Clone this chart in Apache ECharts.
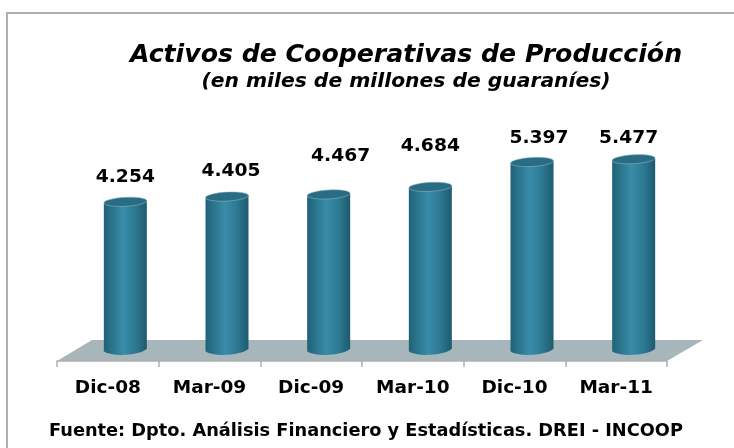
<!DOCTYPE html>
<html>
<head>
<meta charset="utf-8">
<style>
  html, body { margin: 0; padding: 0; background: #fff; }
  #chart { width: 734px; height: 448px; }
</style>
<script src="https://cdn.jsdelivr.net/npm/echarts@6/dist/echarts.min.js"></script>
</head>
<body>
<div id="chart"></div>
<script>
const categories = ['Dic-08', 'Mar-09', 'Dic-09', 'Mar-10', 'Dic-10', 'Mar-11']
const activos = [4254, 4405, 4467, 4684, 5397, 5477]

// los rótulos del original están colocados a mano, no a distancia fija
const labelLift = [24, 25, 38, 40, 23, 21]
const labelShift = [0, 4, 12, 0, 7, -5]

const font = '"DejaVu Sans", Verdana, sans-serif'
const depthX = 17.5
const depthY = 11
const halfWidth = 21.5
const capRy = 4.5
const tilt = 1.2

const bodyGradient = new echarts.graphic.LinearGradient(0, 0, 1, 0, [
  { offset: 0, color: '#1f6277' },
  { offset: 0.45, color: '#3a8ca9' },
  { offset: 0.75, color: '#2c7790' },
  { offset: 1, color: '#1d5a6d' }
])

// cilindro: el eje da la posición y el tamaño sale de la escala
function renderCylinder(params, api) {
  const i = api.value(0)
  const top = api.coord([i, api.value(1)])
  const base = api.coord([i, 0])
  const cx = top[0] + depthX
  const topY = top[1] - depthY
  const baseY = base[1] - depthY
  const left = cx - halfWidth
  const right = cx + halfWidth
  return {
    type: 'group',
    children: [
      {
        type: 'path',
        shape: {
          pathData: `M${left} ${topY + tilt} L${left} ${baseY + tilt} C${left + 8} ${baseY + 7} ${right - 8} ${baseY + 6} ${right} ${baseY - tilt} L${right} ${topY - tilt} Z`
        },
        style: { fill: bodyGradient }
      },
      {
        type: 'ellipse',
        x: cx,
        y: topY,
        rotation: 0.055,
        shape: { cx: 0, cy: 0, rx: halfWidth, ry: capRy },
        style: { fill: '#296d84', stroke: '#9dbcc6', lineWidth: 0.5 }
      },
      {
        type: 'text',
        x: cx + labelShift[params.dataIndex],
        y: topY - labelLift[params.dataIndex],
        scaleX: 1.1,
        style: {
          text: api.value(2),
          x: 0,
          y: 0,
          align: 'center',
          verticalAlign: 'middle',
          font: 'bold 17px ' + font,
          fill: '#000'
        }
      }
    ]
  }
}

const chart = echarts.init(document.getElementById('chart'), null, { renderer: 'canvas' })

chart.setOption({
  animation: false,
  backgroundColor: '#fff',
  title: {
    text: 'Activos de Cooperativas de Producción',
    subtext: '(en miles de millones de guaraníes)',
    left: 401,
    top: 38,
    textAlign: 'center',
    itemGap: 4,
    textStyle: { fontFamily: font, fontSize: 25.2, fontWeight: 'bold', fontStyle: 'italic', color: '#000' },
    subtextStyle: { fontFamily: font, fontSize: 20.3, fontWeight: 'bold', fontStyle: 'italic', color: '#000' }
  },
  grid: { left: 57, right: 67, top: 152, bottom: 87 },
  xAxis: {
    type: 'category',
    data: categories,
    axisLine: { lineStyle: { color: '#b0b0b0', width: 1.5 } },
    axisTick: { show: true, length: 6, lineStyle: { color: '#b0b0b0', width: 1.5 } },
    axisLabel: { color: '#000', fontFamily: font, fontSize: 18.5, fontWeight: 'bold', margin: 18 }
  },
  yAxis: { type: 'value', min: 0, max: 6000, show: false },
  graphic: [
    {
      type: 'polyline',
      shape: { points: [[7, 448], [7, 13], [734, 13]] },
      style: { fill: 'none', stroke: '#b0b0b0', lineWidth: 2 },
      z: 0
    },
    {
      type: 'polygon',
      shape: { points: [[57, 361], [92, 340], [703, 340], [667, 361]] },
      style: { fill: '#a7b6bb' },
      z: 0
    },
    {
      type: 'text',
      style: {
        text: 'Fuente: Dpto. Análisis Financiero y Estadísticas. DREI - INCOOP',
        x: 49,
        y: 431,
        verticalAlign: 'middle',
        font: 'bold 17.75px ' + font,
        fill: '#000'
      }
    }
  ],
  series: [
    {
      type: 'custom',
      renderItem: renderCylinder,
      encode: { x: 0, y: 1 },
      data: activos.map((v, i) => [i, v, v.toLocaleString('de-DE')]),
      z: 5
    }
  ]
})
</script>
</body>
</html>
